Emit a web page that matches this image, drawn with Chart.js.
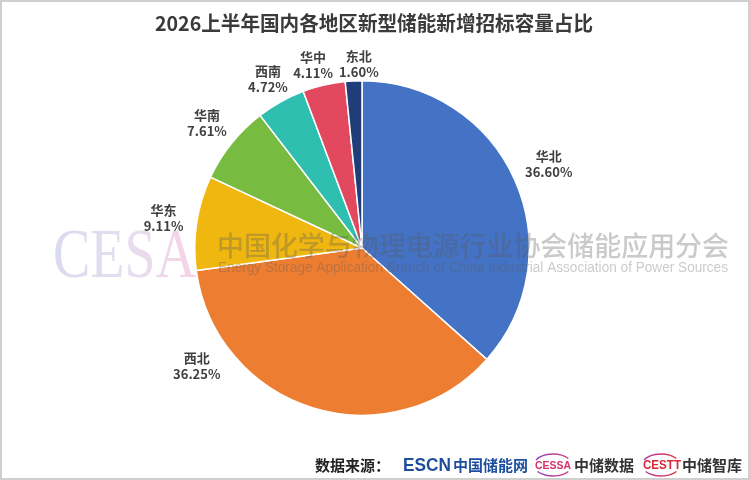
<!DOCTYPE html>
<html>
<head>
<meta charset="utf-8">
<script src="https://cdn.jsdelivr.net/npm/chart.js@4.4.1/dist/chart.umd.min.js"></script>
<style>
    html, body { margin: 0; padding: 0; background: #fff; }
    #wrap { width: 750px; height: 480px; position: relative; }
</style>
</head>
<body>
<div id="wrap"><canvas id="regionChart"></canvas></div>
<script>
const regions = ['华北', '西北', '华东', '华南', '西南', '华中', '东北'];
const shares = [36.60, 36.25, 9.11, 7.61, 4.72, 4.11, 1.60];
const titleText = '2026上半年国内各地区新型储能新增招标容量占比';
const watermarkCn = '中国化学与物理电源行业协会储能应用分会';
const watermarkEn = 'Energy Storage Application Branch of China Industrial Association of Power Sources';

const CJK = '"Noto Sans CJK SC", "Noto Sans", sans-serif';

// title, watermark, footer and frame
const decorPlugin = {
    id: 'decor',
    beforeDraw(chart) {
        const ctx = chart.ctx;
        ctx.save();
        ctx.fillStyle = '#fff';
        ctx.fillRect(0, 0, chart.width, chart.height);
        ctx.font = 'bold 20px ' + CJK;
        ctx.fillStyle = '#3a3a3a';
        ctx.textAlign = 'center';
        ctx.textBaseline = 'middle';
        ctx.fillText(titleText, 374, 23, 438);
        ctx.restore();
    },
    afterDatasetsDraw(chart) {
        const ctx = chart.ctx;
        ctx.save();
        // CESA letters, squeezed serif
        ctx.translate(53, 277);
        ctx.scale(0.8, 1);
        ctx.font = '70px "Liberation Serif", "DejaVu Serif", serif';
        ctx.textBaseline = 'alphabetic';
        const g = ctx.createLinearGradient(0, 0, 180, 0);
        g.addColorStop(0, 'rgba(165,170,215,0.42)');
        g.addColorStop(0.55, 'rgba(195,175,215,0.42)');
        g.addColorStop(1, 'rgba(238,155,195,0.45)');
        ctx.fillStyle = g;
        ctx.fillText('CESA', 0, 0);
        ctx.restore();

        ctx.save();
        ctx.textAlign = 'left';
        ctx.textBaseline = 'middle';
        ctx.fillStyle = 'rgba(90,90,90,0.32)';
        ctx.font = '500 27px ' + CJK;
        ctx.fillText(watermarkCn, 217, 246, 512);
        ctx.font = '14px "Liberation Sans", Arial, sans-serif';
        ctx.fillText(watermarkEn, 218, 268, 510);
        ctx.restore();
    },
    afterDraw(chart) {
        const ctx = chart.ctx;
        ctx.save();
        ctx.strokeStyle = '#cfcfcf';
        ctx.lineWidth = 2;
        ctx.strokeRect(1, 1, chart.width - 2, chart.height - 2);

        const y = 465;
        ctx.textBaseline = 'middle';
        ctx.textAlign = 'left';
        ctx.fillStyle = '#222';
        ctx.font = 'bold 15px ' + CJK;
        ctx.fillText('数据来源：', 315, y);

        ctx.fillStyle = '#1d4e9e';
        ctx.font = 'bold 19px "Liberation Sans", Arial, sans-serif';
        ctx.fillText('ESCN', 403, y + 1, 48);
        ctx.font = 'bold 15px ' + CJK;
        ctx.fillText('中国储能网', 453, y, 76);

        // CESSA mark
        ctx.fillStyle = '#d6336c';
        ctx.font = 'bold 11px "Liberation Sans", Arial, sans-serif';
        ctx.fillText('CESSA', 535, y + 1, 36);
        drawSwirl(ctx, 553, y, '#8a3fbf', '#e0407a');
        ctx.fillStyle = '#333';
        ctx.font = 'bold 15px ' + CJK;
        ctx.fillText('中储数据', 574, y, 60);

        // CESTT mark
        ctx.fillStyle = '#d9283a';
        ctx.font = 'bold 12px "Liberation Sans", Arial, sans-serif';
        ctx.fillText('CESTT', 643, y + 1, 38);
        drawSwirl(ctx, 661, y, '#b03aa0', '#e23a3a');
        ctx.fillStyle = '#333';
        ctx.font = 'bold 15px ' + CJK;
        ctx.fillText('中储智库', 682, y, 60);
        ctx.restore();
    }
};

function drawSwirl(ctx, cx, cy, c1, c2) {
    const g = ctx.createLinearGradient(cx - 20, 0, cx + 20, 0);
    g.addColorStop(0, c1);
    g.addColorStop(1, c2);
    ctx.strokeStyle = g;
    ctx.lineWidth = 1.4;
    ctx.beginPath();
    ctx.ellipse(cx, cy, 19, 11, 0, Math.PI * 1.15, Math.PI * 1.8);
    ctx.stroke();
    ctx.beginPath();
    ctx.ellipse(cx, cy, 19, 11, 0, Math.PI * 0.2, Math.PI * 0.8);
    ctx.stroke();
}

// distance from the pie centre for a label box facing direction (ux, uy)
function labelDist(r, w, ux, uy) {
    return r + 10 + (w / 2) * 1.15 * Math.abs(ux) + 6 * Math.abs(uy);
}

// region name + percentage outside each slice
const labelPlugin = {
    id: 'sliceLabels',
    afterDatasetsDraw(chart) {
        const ctx = chart.ctx;
        const meta = chart.getDatasetMeta(0);
        ctx.save();
        ctx.font = 'bold 13px ' + CJK;
        ctx.fillStyle = '#404040';
        ctx.textAlign = 'center';
        ctx.textBaseline = 'middle';
        const boxes = meta.data.map((arc, i) => {
            const p = arc.getProps(['x', 'y', 'startAngle', 'endAngle', 'outerRadius'], true);
            const mid = (p.startAngle + p.endAngle) / 2;
            let ux = Math.cos(mid), uy = Math.sin(mid);
            const pct = shares[i].toFixed(2) + '%';
            const w = Math.max(ctx.measureText(regions[i]).width, ctx.measureText(pct).width);
            let d = labelDist(p.outerRadius, w, ux, uy);
            let lx = p.x + d * ux, ly = p.y + d * uy;
            // keep labels out of the footer band: slide along the ring
            const maxY = p.y + p.outerRadius * 0.8 - 16;
            if (ly > maxY) {
                const side = Math.sign(ux);
                const dy = maxY - p.y;
                ly = maxY;
                for (let k = 0; k < 4; k++) {
                    lx = p.x + side * Math.sqrt(Math.max(d * d - dy * dy, 0));
                    const len = Math.hypot(lx - p.x, ly - p.y);
                    ux = (lx - p.x) / len;
                    uy = (ly - p.y) / len;
                    d = labelDist(p.outerRadius, w, ux, uy);
                }
                lx = p.x + side * Math.sqrt(Math.max(d * d - dy * dy, 0));
            }
            return { x: lx, y: ly, w: w, pct: pct, name: regions[i] };
        });
        // push apart neighbours that collide
        for (let i = 0; i < boxes.length; i++) {
            for (let j = i + 1; j < boxes.length; j++) {
                const a = boxes[i], b = boxes[j];
                if (Math.abs(a.y - b.y) > 30) continue;
                const need = (a.w + b.w) / 2 + 6;
                const gap = Math.abs(a.x - b.x);
                if (gap < need) {
                    const s = (need - gap) / 2 * (a.x < b.x ? 1 : -1);
                    a.x -= s;
                    b.x += s;
                }
            }
        }
        boxes.forEach(b => {
            ctx.fillText(b.name, b.x, b.y - 8);
            ctx.fillText(b.pct, b.x, b.y + 8);
        });
        ctx.restore();
    }
};

const ctx = document.getElementById('regionChart').getContext('2d');
new Chart(ctx, {
    type: 'pie',
    data: {
        labels: regions,
        datasets: [{
            data: shares,
            backgroundColor: ['#4472C4', '#ED7D31', '#EFB70F', '#77BC41', '#2FBFB0', '#E2495E', '#1F3D78'],
            borderColor: '#ffffff',
            borderWidth: 1.5
        }]
    },
    options: {
        responsive: true,
        maintainAspectRatio: false,
        animation: false,
        layout: {
            padding: { top: 80, bottom: 64, left: 150, right: 176 }
        },
        plugins: {
            legend: { display: false },
            title: { display: false },
            tooltip: { enabled: false }
        }
    },
    plugins: [decorPlugin, labelPlugin]
});
</script>
</body>
</html>
